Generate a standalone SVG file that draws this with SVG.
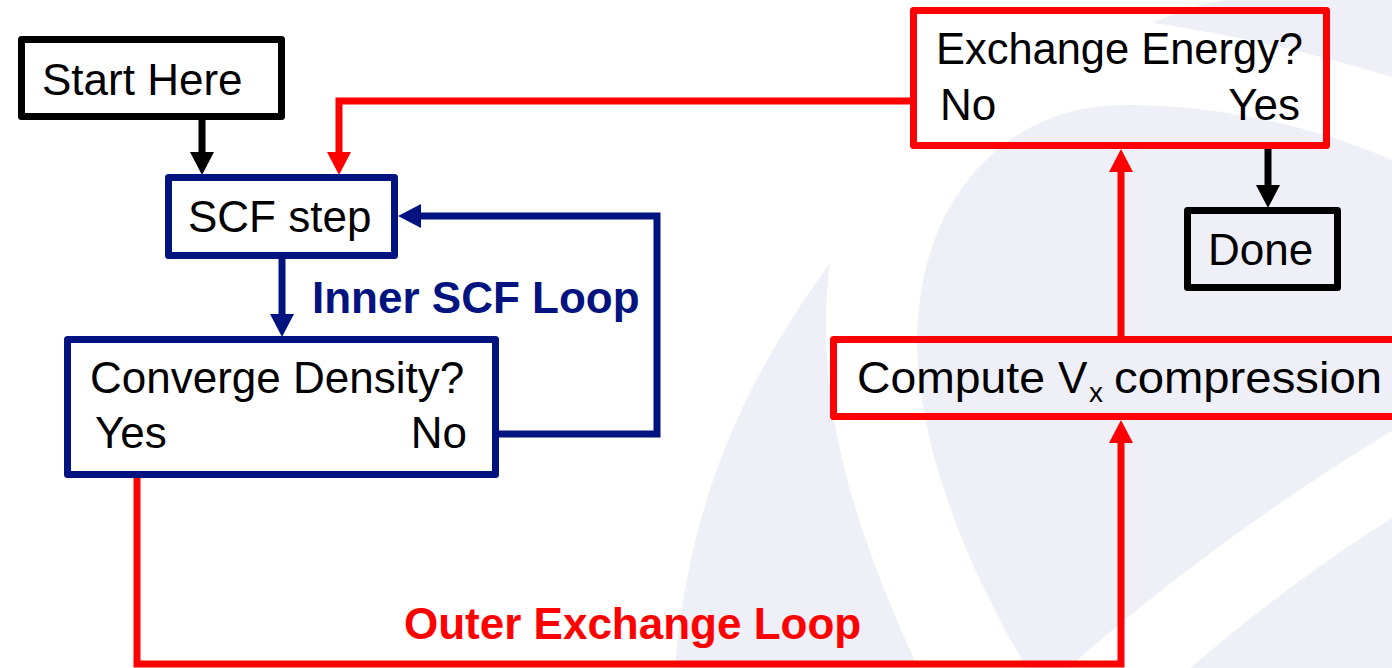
<svg xmlns="http://www.w3.org/2000/svg" width="1392" height="668" viewBox="0 0 1392 668">
  <style>
    .bg { fill: #EFEFF7; }
    .box { fill: none; stroke-width: 7; stroke-linejoin: round; }
    .k { stroke: #000000; }
    .b { stroke: #00137F; }
    .r { stroke: #FF0000; }
    .lbl { font-family: "Liberation Sans", Arial, sans-serif; font-size: 44px; fill: #000000; }
    .sub { font-size: 28px; }
    .loop { font-family: "Liberation Sans", Arial, sans-serif; font-size: 44px; font-weight: bold; }
    .edge { fill: none; stroke-width: 7; stroke-linejoin: miter; }
  </style>
  <defs>
    <marker id="headK" markerUnits="userSpaceOnUse" markerWidth="24" markerHeight="24" refX="0" refY="12" orient="auto">
      <path d="M0,0 L23,12 L0,24 Z" fill="#000000"/>
    </marker>
    <marker id="headB" markerUnits="userSpaceOnUse" markerWidth="24" markerHeight="24" refX="0" refY="12" orient="auto">
      <path d="M0,0 L23,12 L0,24 Z" fill="#00137F"/>
    </marker>
    <marker id="headR" markerUnits="userSpaceOnUse" markerWidth="24" markerHeight="24" refX="0" refY="12" orient="auto">
      <path d="M0,0 L23,12 L0,24 Z" fill="#FF0000"/>
    </marker>
  </defs>

  <rect width="1392" height="668" fill="#FFFFFF"/>

  <!-- faint backdrop swooshes -->
  <g id="backdrop">
    <path class="bg" d="M830,263 C760,360 690,480 675,668 L918,668 C855,530 812,400 830,263 Z"/>
    <path class="bg" d="M1027,668 C950,540 905,400 920,300 C935,180 1020,105 1123,105 C1220,105 1310,125 1392,160 L1392,668 Z"/>
    <path d="M1068,668 Q1220,535 1392,431 L1392,518 Q1290,582 1190,668 Z" fill="#FFFFFF"/>
    <path class="bg" d="M1153,23 Q1182,8 1225,0 L1392,0 L1392,77 Q1270,40 1153,23 Z"/>
  </g>

  <g id="connectors">
    <path class="edge k" d="M202,120 V152" marker-end="url(#headK)"/>
    <path class="edge r" d="M913,101 H339 V152" marker-end="url(#headR)"/>
    <path class="edge b" d="M282,259 V314" marker-end="url(#headB)"/>
    <path class="edge b" d="M496,434 H657 V216 H421" marker-end="url(#headB)"/>
    <path class="edge r" d="M137,477 V664 H1121 V443" marker-end="url(#headR)"/>
    <path class="edge r" d="M1121,336 V172" marker-end="url(#headR)"/>
    <path class="edge k" d="M1268,149 V185" marker-end="url(#headK)"/>
  </g>

  <g id="start">
    <rect class="box k" x="21.5" y="39.5" width="260" height="77"/>
    <text class="lbl" x="42" y="95">Start Here</text>
  </g>

  <g id="scf-step">
    <rect class="box b" x="168.5" y="177.5" width="226" height="78"/>
    <text class="lbl" x="188" y="232">SCF step</text>
  </g>

  <g id="converge-density">
    <rect class="box b" x="67.5" y="339.5" width="428" height="135"/>
    <text class="lbl" x="90" y="393">Converge Density?</text>
    <text class="lbl" x="95" y="448">Yes</text>
    <text class="lbl" x="467" y="448" text-anchor="end">No</text>
  </g>

  <g id="inner-loop-label">
    <text class="loop" x="312" y="313" fill="#00137F">Inner SCF Loop</text>
  </g>

  <g id="exchange-energy">
    <rect class="box r" x="913.5" y="10.5" width="413" height="135"/>
    <text class="lbl" x="936" y="64" textLength="367" lengthAdjust="spacingAndGlyphs">Exchange Energy?</text>
    <text class="lbl" x="940" y="120">No</text>
    <text class="lbl" x="1300" y="120" text-anchor="end">Yes</text>
  </g>

  <g id="done">
    <rect class="box k" x="1187.5" y="210.5" width="150" height="77"/>
    <text class="lbl" x="1208" y="265">Done</text>
  </g>

  <g id="compute-vx">
    <rect class="box r" x="833.5" y="339.5" width="600" height="77"/>
    <text class="lbl" y="393"><tspan x="857" textLength="188" lengthAdjust="spacingAndGlyphs">Compute</tspan><tspan x="1058">V</tspan><tspan class="sub" x="1089" y="402">x</tspan><tspan x="1114" y="393" textLength="268" lengthAdjust="spacingAndGlyphs">compression</tspan></text>
  </g>

  <g id="outer-loop-label">
    <text class="loop" x="404" y="639" fill="#FF0000">Outer Exchange Loop</text>
  </g>
</svg>
